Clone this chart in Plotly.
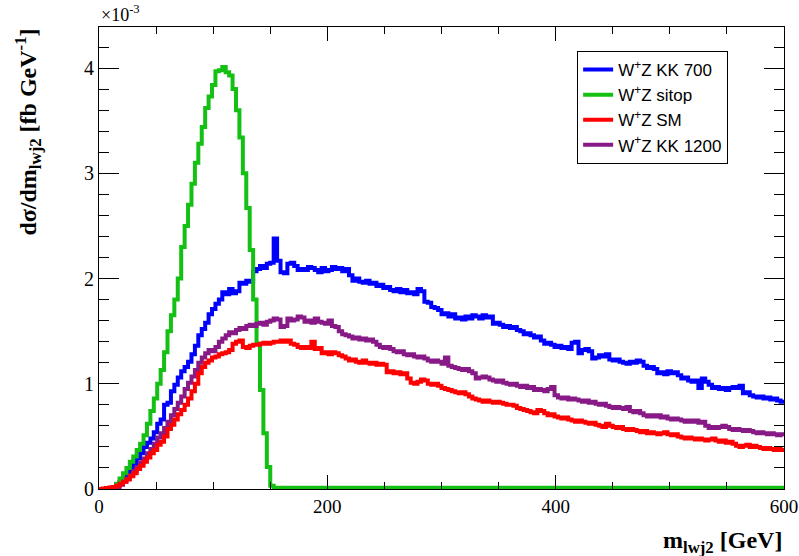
import plotly.graph_objects as go

# Histogram range (GeV); bins are equal width over this range
x_lo, x_hi = 0, 600

# dsigma/dm_lwj2 in units of 1e-3 fb/GeV, one value per bin (200 bins)
kk700 = [
    0.0, 0.0, 0.0, 0.005, 0.02, 0.04, 0.07, 0.10, 0.14, 0.19,
    0.24, 0.29, 0.34, 0.40, 0.44, 0.48, 0.54, 0.62, 0.66, 0.80,
    0.82, 0.93, 0.99, 1.06, 1.12, 1.16, 1.21, 1.28, 1.36, 1.46,
    1.52, 1.58, 1.66, 1.71, 1.76, 1.80, 1.87, 1.85, 1.90, 1.86,
    1.88, 1.96, 1.95, 1.98, 1.97, 2.07, 2.09, 2.12, 2.10, 2.14,
    2.15, 2.38, 2.17, 2.06, 2.05, 2.14, 2.15, 2.12, 2.08, 2.09,
    2.08, 2.11, 2.10, 2.08, 2.06, 2.10, 2.07, 2.08, 2.11, 2.09,
    2.10, 2.07, 2.09, 2.03, 1.98, 2.00, 1.97, 1.96, 1.98, 1.95,
    1.96, 1.93, 1.94, 1.91, 1.92, 1.89, 1.88, 1.90, 1.87, 1.89,
    1.86, 1.87, 1.85, 1.90, 1.88, 1.78, 1.77, 1.73, 1.72, 1.70,
    1.66, 1.67, 1.64, 1.66, 1.62, 1.63, 1.61, 1.64, 1.62, 1.65,
    1.64, 1.62, 1.65, 1.63, 1.64, 1.57, 1.58, 1.56, 1.54, 1.55,
    1.53, 1.54, 1.51, 1.50, 1.47, 1.48, 1.46, 1.44, 1.45, 1.41,
    1.38, 1.39, 1.37, 1.35, 1.36, 1.34, 1.35, 1.33, 1.39, 1.40,
    1.29, 1.32, 1.33, 1.31, 1.24, 1.25, 1.27, 1.26, 1.28, 1.23,
    1.22, 1.23, 1.21, 1.20, 1.19, 1.21, 1.20, 1.22, 1.21, 1.17,
    1.15, 1.16, 1.14, 1.10, 1.11, 1.09, 1.12, 1.10, 1.11, 1.08,
    1.05, 1.06, 1.03, 1.02, 1.03, 0.96, 1.05, 1.02, 0.99, 0.96,
    0.97, 0.95, 0.96, 0.94, 0.96, 0.97, 0.96, 0.98, 0.91, 0.92,
    0.89, 0.88, 0.87, 0.88, 0.86, 0.87, 0.85, 0.86, 0.84, 0.83,
]

sitop = [
    0.0, 0.0, 0.0, 0.0, 0.01, 0.05, 0.10, 0.15, 0.20, 0.26,
    0.31, 0.37, 0.43, 0.51, 0.62, 0.74, 0.86, 1.00, 1.13, 1.30,
    1.50, 1.65, 1.80, 2.00, 2.30, 2.50, 2.70, 2.90, 3.10, 3.28,
    3.44, 3.62, 3.73, 3.84, 3.97, 3.98, 4.01, 3.96, 3.93, 3.80,
    3.60, 3.34, 3.00, 2.67, 2.27, 1.80, 1.38, 0.94, 0.53, 0.21,
    0.03, 0.012, 0.011, 0.012, 0.011, 0.012, 0.011, 0.011, 0.012, 0.011,
    0.011, 0.012, 0.011, 0.011, 0.012, 0.011, 0.011, 0.012, 0.011, 0.011,
    0.011, 0.011, 0.012, 0.011, 0.011, 0.011, 0.012, 0.011, 0.011, 0.011,
    0.011, 0.011, 0.011, 0.012, 0.011, 0.011, 0.011, 0.011, 0.012, 0.011,
    0.011, 0.011, 0.011, 0.011, 0.011, 0.012, 0.011, 0.011, 0.011, 0.011,
    0.011, 0.011, 0.011, 0.011, 0.011, 0.011, 0.011, 0.012, 0.011, 0.011,
    0.011, 0.011, 0.011, 0.011, 0.011, 0.011, 0.011, 0.011, 0.011, 0.011,
    0.011, 0.011, 0.011, 0.011, 0.011, 0.011, 0.011, 0.011, 0.011, 0.011,
    0.011, 0.011, 0.011, 0.011, 0.011, 0.011, 0.011, 0.011, 0.011, 0.011,
    0.011, 0.011, 0.011, 0.011, 0.011, 0.011, 0.011, 0.011, 0.011, 0.011,
    0.011, 0.011, 0.011, 0.011, 0.011, 0.011, 0.011, 0.011, 0.011, 0.011,
    0.011, 0.011, 0.011, 0.011, 0.011, 0.011, 0.011, 0.011, 0.011, 0.011,
    0.011, 0.011, 0.011, 0.011, 0.011, 0.011, 0.011, 0.011, 0.011, 0.011,
    0.011, 0.011, 0.011, 0.011, 0.011, 0.011, 0.011, 0.011, 0.011, 0.011,
    0.011, 0.011, 0.011, 0.011, 0.011, 0.011, 0.011, 0.011, 0.011, 0.011,
]

sm = [
    0.0, 0.005, 0.01, 0.015, 0.02, 0.03, 0.05, 0.07, 0.09, 0.12,
    0.15, 0.19, 0.22, 0.26, 0.30, 0.34, 0.37, 0.42, 0.45, 0.50,
    0.57, 0.61, 0.66, 0.71, 0.75, 0.80, 0.86, 0.93, 1.00, 1.10,
    1.16, 1.20, 1.22, 1.25, 1.26, 1.28, 1.29, 1.30, 1.32, 1.38,
    1.40, 1.41, 1.35, 1.34, 1.36, 1.37, 1.37, 1.38, 1.39, 1.38,
    1.39, 1.40, 1.40, 1.41, 1.40, 1.41, 1.38, 1.37, 1.35, 1.34,
    1.35, 1.34, 1.40, 1.33, 1.34, 1.29, 1.30, 1.28, 1.30, 1.29,
    1.27, 1.26, 1.24, 1.22, 1.23, 1.21, 1.20, 1.22, 1.20, 1.19,
    1.20, 1.18, 1.19, 1.18, 1.11, 1.12, 1.10, 1.11, 1.09, 1.10,
    1.05, 1.01, 1.00, 1.02, 1.04, 1.03, 1.00, 0.99, 1.00, 0.98,
    0.96, 0.95, 0.94, 0.93, 0.92, 0.91, 0.92, 0.90, 0.88, 0.86,
    0.85, 0.84, 0.83, 0.84, 0.83, 0.82, 0.83, 0.82, 0.81, 0.80,
    0.80, 0.79, 0.77, 0.76, 0.75, 0.74, 0.73, 0.72, 0.75, 0.74,
    0.72, 0.70, 0.71, 0.69, 0.68, 0.67, 0.68, 0.66, 0.65, 0.64,
    0.65, 0.64, 0.63, 0.62, 0.63, 0.61, 0.60, 0.59, 0.62, 0.60,
    0.59, 0.58, 0.59, 0.57, 0.56, 0.57, 0.56, 0.55, 0.54, 0.55,
    0.53, 0.54, 0.53, 0.52, 0.53, 0.54, 0.52, 0.51, 0.52, 0.50,
    0.49, 0.48, 0.49, 0.48, 0.47, 0.48, 0.47, 0.46, 0.47, 0.48,
    0.46, 0.45, 0.46, 0.44, 0.45, 0.43, 0.41, 0.40, 0.41, 0.42,
    0.40, 0.41, 0.40, 0.39, 0.38, 0.39, 0.38, 0.37, 0.38, 0.37,
]

kk1200 = [
    0.0, 0.0, 0.0, 0.002, 0.006, 0.02, 0.04, 0.07, 0.10, 0.13,
    0.17, 0.21, 0.25, 0.29, 0.34, 0.38, 0.43, 0.49, 0.53, 0.58,
    0.64, 0.70, 0.76, 0.82, 0.88, 0.95, 1.01, 1.07, 1.13, 1.20,
    1.25, 1.29, 1.32, 1.31, 1.35, 1.40, 1.43, 1.46, 1.49, 1.48,
    1.51, 1.53, 1.52, 1.55, 1.56, 1.55, 1.57, 1.58, 1.56, 1.59,
    1.60, 1.62, 1.61, 1.54, 1.55, 1.62, 1.60, 1.61, 1.64, 1.63,
    1.59, 1.60, 1.58, 1.62, 1.59, 1.58, 1.57, 1.60, 1.55, 1.54,
    1.50, 1.47, 1.46, 1.45, 1.43, 1.44, 1.42, 1.43, 1.41, 1.42,
    1.40, 1.37, 1.35, 1.34, 1.35, 1.33, 1.31, 1.30, 1.31, 1.28,
    1.27, 1.28, 1.26, 1.25, 1.26, 1.24, 1.22, 1.21, 1.22, 1.21,
    1.19, 1.25, 1.17, 1.16, 1.15, 1.14, 1.13, 1.14, 1.12, 1.10,
    1.05, 1.06, 1.07, 1.06, 1.04, 1.03, 1.02, 1.03, 1.01, 1.00,
    0.99, 1.00, 0.98, 0.97, 0.98, 0.96, 0.97, 0.94, 0.95, 0.94,
    0.93, 0.95, 0.97, 0.89, 0.87, 0.86, 0.87, 0.85, 0.86, 0.85,
    0.84, 0.83, 0.84, 0.82, 0.83, 0.81, 0.80, 0.81, 0.79, 0.78,
    0.77, 0.78, 0.77, 0.76, 0.78, 0.74, 0.73, 0.74, 0.72, 0.70,
    0.69, 0.70, 0.69, 0.70, 0.68, 0.69, 0.67, 0.66, 0.67, 0.66,
    0.65, 0.64, 0.65, 0.64, 0.65, 0.63, 0.64, 0.60, 0.58, 0.59,
    0.58, 0.59, 0.60, 0.59, 0.57, 0.56, 0.57, 0.56, 0.55, 0.56,
    0.55, 0.54, 0.53, 0.54, 0.53, 0.52, 0.53, 0.52, 0.51, 0.52,
]

x_ticks = [0, 200, 400, 600]
y_ticks = [0, 1, 2, 3, 4]

series = [
    # (name, values, colour, legend rank) in drawing order
    ("W<sup>+</sup>Z KK 700", kk700, "#0000ff", 1),
    ("W<sup>+</sup>Z sitop", sitop, "#14c014", 2),
    ("W<sup>+</sup>Z KK 1200", kk1200, "#871a87", 4),
    ("W<sup>+</sup>Z SM", sm, "#ff0000", 3),
]


def step_xy(vals):
    n = len(vals)
    w = (x_hi - x_lo) / n
    xs = [x_lo + i * w for i in range(n)] + [x_hi]
    ys = list(vals) + [vals[-1]]
    return xs, ys


fig = go.Figure()
for name, vals, col, rank in series:
    xs, ys = step_xy(vals)
    fig.add_trace(go.Scatter(
        x=xs, y=ys, mode="lines", name=name,
        line=dict(color=col, width=4, shape="hv"),
        legendrank=rank, hoverinfo="skip",
    ))

serif = "Liberation Serif"
sans = "Liberation Sans"

fig.update_layout(
    width=799, height=556,
    margin=dict(l=99, r=15, t=27, b=67, autoexpand=False),
    paper_bgcolor="white", plot_bgcolor="white",
    showlegend=True,
    legend=dict(
        x=0.698, y=0.948, xanchor="left", yanchor="top",
        bordercolor="black", borderwidth=1, bgcolor="white",
        font=dict(family=sans, size=17, color="black"),
        tracegroupgap=0, itemwidth=30,
    ),
    xaxis=dict(
        range=[x_lo, x_hi], tickvals=x_ticks, ticktext=[str(v) for v in x_ticks],
        ticks="inside", ticklen=14, tickwidth=1, tickcolor="black",
        minor=dict(ticks="inside", ticklen=7, dtick=50, tickcolor="black", tickwidth=1),
        showline=True, linecolor="black", linewidth=1, mirror="allticks",
        showgrid=False, zeroline=False, automargin=False,
        tickfont=dict(family=serif, size=19, color="black"),
    ),
    yaxis=dict(
        range=[0, 4.39], tickvals=y_ticks, ticktext=[str(v) for v in y_ticks],
        ticks="inside", ticklen=20, tickwidth=1, tickcolor="black",
        minor=dict(ticks="inside", ticklen=10, dtick=0.2, tickcolor="black", tickwidth=1),
        showline=True, linecolor="black", linewidth=1, mirror="allticks",
        showgrid=False, zeroline=False, automargin=False,
        tickfont=dict(family=serif, size=20, color="black"),
    ),
    annotations=[
        dict(text="×10<sup>-3</sup>", xref="paper", yref="paper", x=0, y=1,
             xanchor="left", yanchor="bottom", showarrow=False, yshift=0,
             font=dict(family=serif, size=18, color="black")),
        dict(text="<b>m<sub>lwj2</sub> [GeV]</b>", xref="paper", yref="paper",
             x=1, y=0, xanchor="right", yanchor="top", showarrow=False, yshift=-36,
             font=dict(family=serif, size=24, color="black")),
        dict(text="<b>dσ/dm<sub>lwj2</sub> [fb GeV<sup>-1</sup>]</b>", xref="paper", yref="paper",
             x=-0.105, y=1, xanchor="center", yanchor="top", textangle=-90, showarrow=False,
             font=dict(family=serif, size=24, color="black")),
    ],
)

fig.write_html("out.html")
